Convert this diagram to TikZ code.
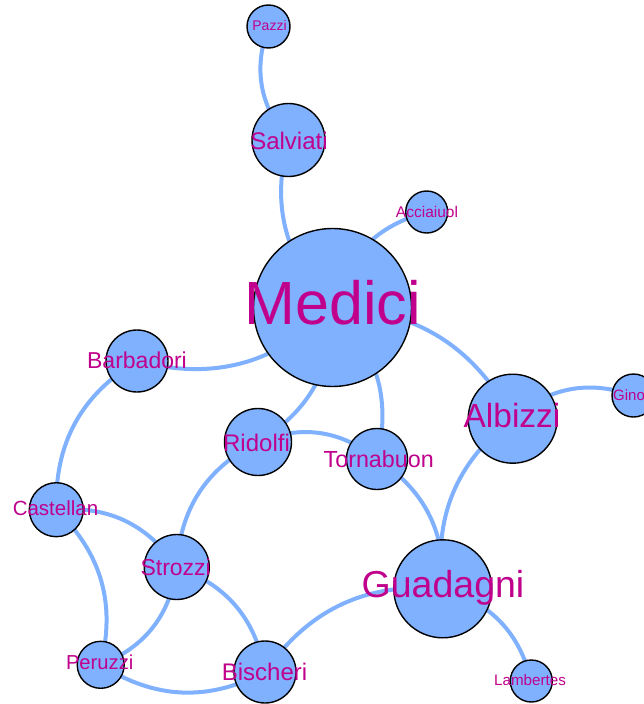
\documentclass[tikz,border=0pt]{standalone}
\usepackage{fontspec}
\setmainfont{Liberation Sans}
\usetikzlibrary{backgrounds}
\definecolor{nodefill}{RGB}{128,177,255}
\definecolor{edgecol}{RGB}{128,177,255}
\definecolor{txtcol}{RGB}{192,0,140}
\tikzset{
  fam/.style={circle, draw=black, line width=1.4pt, fill=nodefill, inner sep=0pt, minimum size=#1},
  lbl/.style={anchor=base, inner sep=0pt, text=txtcol},
  tie/.style={draw=edgecol, line width=4pt, bend right=30},
}
\newcommand{\fs}[1]{\fontsize{#1}{#1}\selectfont}
\begin{document}
\begin{tikzpicture}[x=1pt, y=-1pt]
\useasboundingbox (0,0) rectangle (644,704);
\clip (0,0) rectangle (644,704);

% families
\node[fam=43pt]  (pazzi)    at (268.5,26.5) {};
\node[fam=73pt]  (salviati) at (288.5,140)  {};
\node[fam=42pt]  (acciaiuol) at (426.7,212) {};
\node[fam=158pt] (medici)   at (332.5,307.5) {};
\node[fam=62pt]  (barbadori) at (137,361)   {};
\node[fam=89pt]  (albizzi)  at (512.7,418.7) {};
\node[fam=43pt]  (ginori)   at (633.5,395.5) {};
\node[fam=67pt]  (ridolfi)  at (258,442)    {};
\node[fam=61pt]  (tornabuon) at (377,459)   {};
\node[fam=54pt]  (castellan) at (56.3,509.7) {};
\node[fam=65pt]  (strozzi)  at (176.8,567)  {};
\node[fam=98pt]  (guadagni) at (442.8,588.8) {};
\node[fam=47pt]  (peruzzi)  at (100.7,664.8) {};
\node[fam=62pt]  (bischeri) at (265,672)    {};
\node[fam=42pt]  (lambertes) at (531.3,681) {};

% marriage ties, behind the circles
\begin{scope}[on background layer]
\fill[white] (0,0) rectangle (644,704);
\draw[tie] (pazzi.center) to (salviati.center);
\draw[tie] (salviati.center) to (medici.center);
\draw[tie] (acciaiuol.center) to (medici.center);
\draw[tie] (barbadori.center) to (medici.center);
\draw[tie] (albizzi.center) to (medici.center);
\draw[tie] (ridolfi.center) to (medici.center);
\draw[tie] (tornabuon.center) to (medici.center);
\draw[tie] (ginori.center) to (albizzi.center);
\draw[tie] (albizzi.center) to (guadagni.center);
\draw[tie] (barbadori.center) to (castellan.center);
\draw[tie] (tornabuon.center) to (ridolfi.center);
\draw[tie] (ridolfi.center) to (strozzi.center);
\draw[tie] (guadagni.center) to (tornabuon.center);
\draw[tie] (strozzi.center) to (castellan.center);
\draw[tie] (peruzzi.center) to (castellan.center);
\draw[tie] (peruzzi.center) to (strozzi.center);
\draw[tie] (bischeri.center) to (strozzi.center);
\draw[tie] (peruzzi.center) to (bischeri.center);
\draw[tie] (guadagni.center) to (bischeri.center);
\draw[tie] (lambertes.center) to (guadagni.center);
\end{scope}

% names
\node[lbl, font=\fs{14}]   (t-pazzi)    at (269.5,30)  {Pazzi};
\node[lbl, font=\fs{24}]   (t-salviati) at (289,149)   {Salviati};
\node[lbl, font=\fs{15.5}] (t-acciaiuol) at (427,217)  {Acciaiuol};
\node[lbl, font=\fs{61}]   (t-medici)   at (332.5,324) {Medici};
\node[lbl, font=\fs{23}]   (t-barbadori) at (137,368)  {Barbadori};
\node[lbl, font=\fs{33.5}] (t-albizzi)  at (512,427)   {Albizzi};
\node[lbl, font=\fs{15}, anchor=base west] (t-ginori) at (613,400) {Ginori};
\node[lbl, font=\fs{24}]   (t-ridolfi)  at (256.5,451) {Ridolfi};
\node[lbl, font=\fs{23.3}] (t-tornabuon) at (378.7,467) {Tornabuon};
\node[lbl, font=\fs{20.5}] (t-castellan) at (55.5,515) {Castellan};
\node[lbl, font=\fs{23}]   (t-strozzi)  at (175.7,575) {Strozzi};
\node[lbl, font=\fs{37.5}] (t-guadagni) at (443,597)   {Guadagni};
\node[lbl, font=\fs{20.2}] (t-peruzzi)  at (99.7,669)  {Peruzzi};
\node[lbl, font=\fs{24}]   (t-bischeri) at (264.5,680) {Bischeri};
\node[lbl, font=\fs{15.2}] (t-lambertes) at (530,685)  {Lambertes};
\end{tikzpicture}
\end{document}
